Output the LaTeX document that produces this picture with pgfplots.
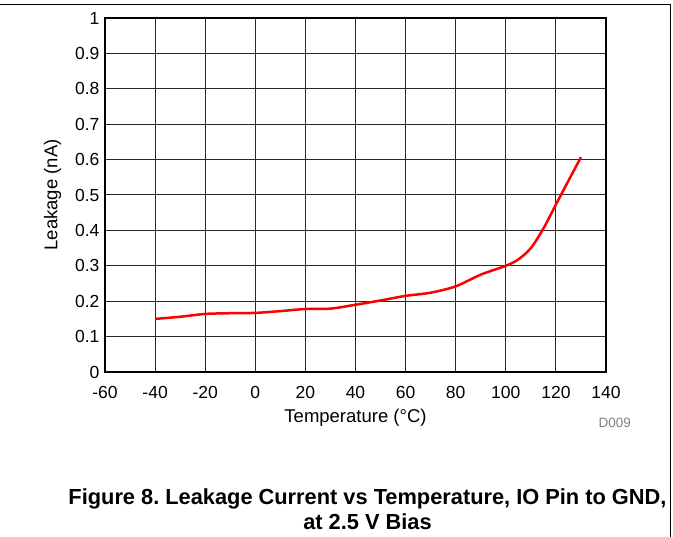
\documentclass[border=0pt]{standalone}
\usepackage{pgfplots}
\pgfplotsset{compat=1.18}
\usepackage{fontspec}
\setmainfont{Liberation Sans}
\frenchspacing

\definecolor{gridc}{RGB}{40,40,40}

\begin{document}
\begin{tikzpicture}[x=1pt,y=1pt]
\useasboundingbox (0,0) rectangle (673,537);
% frame (open at left and bottom)
\draw[line width=1.4pt] (0,532.5) -- (670.5,532.5) -- (670.5,0);

\begin{axis}[
  at={(105pt,165pt)}, anchor=south west,
  scale only axis, width=501pt, height=354pt,
  xmin=-60, xmax=140, ymin=0, ymax=1,
  xtick={-60,-40,...,140},
  ytick={0,0.1,...,1},
  yticklabels={0,0.1,0.2,0.3,0.4,0.5,0.6,0.7,0.8,0.9,1},
  grid=major,
  major grid style={gridc, line width=1pt},
  axis line style={black, line width=2.6pt},
  major tick length=0pt,
  tick label style={font=\fontsize{17.5}{19}\selectfont},
  /pgf/number format/assume math mode=true,
  xticklabel style={yshift=-11pt},
  yticklabel style={xshift=-2pt},
  xlabel={Temperature (°C)},
  ylabel={Leakage (nA)},
  label style={font=\fontsize{18.5}{20}\selectfont},
  xlabel style={yshift=-3pt},
  ylabel style={yshift=7pt},
  clip=false,
]
\addplot[red, line width=2.5pt, smooth, tension=0.5] coordinates {
  (-40,0.150) (-30,0.156) (-20,0.164) (-10,0.166) (0,0.167)
  (10,0.172) (20,0.178) (30,0.179) (40,0.190) (50,0.202)
  (60,0.215) (70,0.224) (80,0.242) (90,0.275) (100,0.300)
  (105,0.318) (110,0.350) (115,0.405) (120,0.473) (130,0.607)
};
\end{axis}

\node[text=gray, font=\fontsize{13.5}{15}\selectfont, anchor=east] at (634.5,114) {D009};
\node[align=center, font=\fontsize{21.8}{25}\selectfont\bfseries] at (367.5,28) {Figure 8. Leakage Current vs Temperature, IO Pin to GND,\\at 2.5 V Bias};
\end{tikzpicture}
\end{document}
